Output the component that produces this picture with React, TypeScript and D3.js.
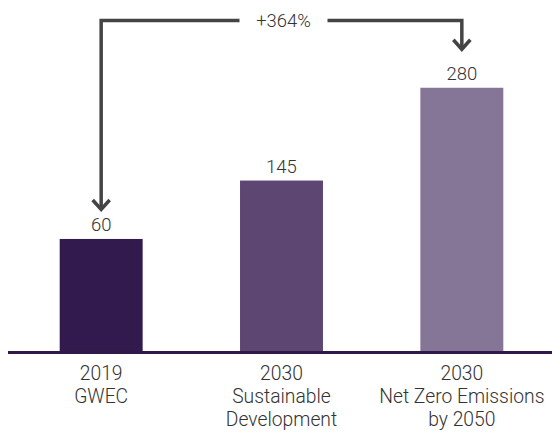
import * as d3 from "d3";

const categories = ["2019|GWEC", "2030|Sustainable|Development", "2030|Net Zero Emissions|by 2050"];
const values = [60, 145, 280];
const barColors = ["#321a4f", "#5d4672", "#857596"];
const changeLabel = "+364%";

const W = 552;
const H = 436;
const baseY = 351;

export default function App() {
  const x = d3
    .scaleBand<string>()
    .domain(categories)
    .range([11, 552])
    .paddingInner(0.54)
    .paddingOuter(0.27);

  // the source chart is not drawn from zero, fitted to its bar heights
  const y = d3.scaleLinear().domain([-103, 300]).range([baseY, baseY - 0.6873 * 403]);

  const cx = (i: number) => (x(categories[i]) ?? 0) + x.bandwidth() / 2;
  const font = "Roboto, 'Open Sans', sans-serif";

  const lineY = 20.5;
  const x0 = cx(0);
  const x1 = cx(2);
  const tip0 = y(values[0]) - 28;
  const tip1 = y(values[2]) - 37;
  const midX = (x(categories[1]) ?? 0) + x.bandwidth() / 2 + 2;
  const gap = 44;

  const head = (px: number, py: number) =>
    `M${px - 8.5},${py - 11}L${px},${py - 1.5}L${px + 8.5},${py - 11}`;

  return (
    <svg width={W} height={H} style={{ position: "absolute", left: 0, top: 0 }}>
      <rect width={W} height={H} fill="#fff" />
      {values.map((v, i) => (
        <g key={i}>
          <rect
            x={x(categories[i])}
            y={y(v)}
            width={x.bandwidth()}
            height={baseY - y(v)}
            fill={barColors[i]}
          />
          <text
            x={cx(i)}
            y={y(v) - 8}
            textAnchor="middle"
            fontFamily={font}
            fontWeight={300}
            fontSize={18.5}
            fill="#333"
          >
            {v}
          </text>
          <text textAnchor="middle" fontFamily={font} fontWeight={300} fontSize={19.3} fill="#333">
            {categories[i].split("|").map((t, j) => (
              <tspan key={j} x={cx(i)} y={380 + j * 23}>
                {t}
              </tspan>
            ))}
          </text>
        </g>
      ))}
      <line x1={8} x2={552} y1={352.5} y2={352.5} stroke="#2f1a47" strokeWidth={3} />

      <g fill="none" stroke="#444" strokeWidth={3.5} strokeLinejoin="miter">
        <path d={`M${x0},${tip0 - 2}V${lineY}H${midX - gap}`} />
        <path d={`M${midX + gap},${lineY}H${x1}V${tip1 - 2}`} />
        <path d={head(x0, tip0)} />
        <path d={head(x1, tip1)} />
      </g>
      <text
        x={midX}
        y={26.5}
        textAnchor="middle"
        fontFamily={font}
        fontWeight={300}
        fontSize={18.4}
        fill="#333"
      >
        {changeLabel}
      </text>
    </svg>
  );
}
